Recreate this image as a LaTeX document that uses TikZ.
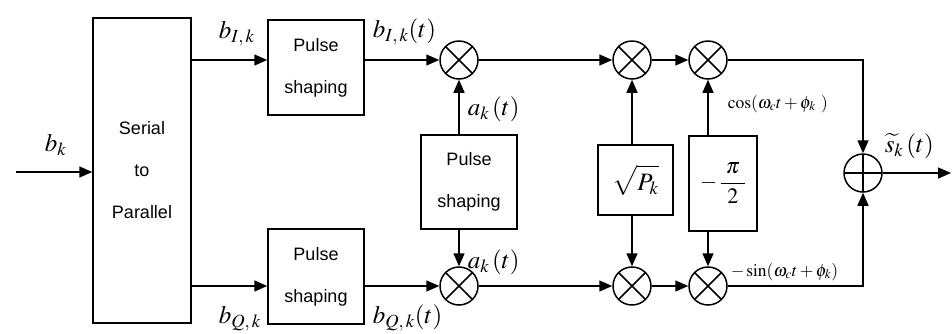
\documentclass[tikz,border=0pt]{standalone}
\usepackage{mathptmx}
\usepackage{fontspec}
\setsansfont{Liberation Sans}
\usetikzlibrary{arrows.meta}

\begin{document}
\begin{tikzpicture}[x=1pt,y=-1pt,line width=1.5pt,
  >={Triangle[length=13pt,width=11pt]},
  block/.style={draw,inner sep=0pt,align=center,
    font=\sffamily\fontsize{18}{42}\selectfont},
  mult/.style={draw,circle,minimum size=38pt,inner sep=0pt,
    path picture={\draw[line width=1.5pt]
      (path picture bounding box.north west) -- (path picture bounding box.south east)
      (path picture bounding box.north east) -- (path picture bounding box.south west);}},
  adder/.style={draw,circle,minimum size=38pt,inner sep=0pt,
    path picture={\draw[line width=1.5pt]
      (path picture bounding box.north) -- (path picture bounding box.south)
      (path picture bounding box.west) -- (path picture bounding box.east);}},
  lbl/.style={inner sep=0pt,anchor=base west,font=\fontsize{25}{28}\selectfont},
  smalllbl/.style={inner sep=0pt,anchor=base west,font=\fontsize{17.5}{20}\selectfont}]

\useasboundingbox (0,0) rectangle (952,333);

% blocks
\node[block,minimum width=98pt,minimum height=305pt] (sp) at (142,170.5) {Serial\\to\\Parallel};
\node[block,minimum width=96pt,minimum height=95pt] (psI) at (316,67.5) {Pulse\\shaping};
\node[block,minimum width=96pt,minimum height=95pt] (psQ) at (316,276.5) {Pulse\\shaping};
\node[block,minimum width=96pt,minimum height=94pt] (psA) at (469,182) {Pulse\\shaping};
\node[block,minimum width=75pt,minimum height=70pt] (amp) at (635.5,180)
  {\fontsize{25}{30}\selectfont$\sqrt{P_k\vphantom{P^{2}}}$};
\node[block,minimum width=68pt,minimum height=95pt] (shift) at (723,183.5)
  {\fontsize{22}{26}\selectfont$\displaystyle -\,\frac{\;\pi\;}{2}$};

% multipliers and adder
\node[mult] (mI1) at (459,60) {};
\node[mult] (mI2) at (632,60) {};
\node[mult] (mI3) at (708,60) {};
\node[mult] (mQ1) at (459,286) {};
\node[mult] (mQ2) at (632,286) {};
\node[mult] (mQ3) at (708,286) {};
\node[adder] (sum) at (863,173) {};

\coordinate (in) at (16,172);
\coordinate (out) at (951,173);

% signal flow
\draw[->] (in) -- (in -| sp.west);
\draw[->] (sp.east |- mI1) -- (psI.west |- mI1);
\draw[->] (sp.east |- mQ1) -- (psQ.west |- mQ1);
\draw[->] (psI.east |- mI1) -- (mI1.west);
\draw[->] (psQ.east |- mQ1) -- (mQ1.west);
\draw[->] (psA.north -| mI1) -- (mI1.south);
\draw[->] (psA.south -| mQ1) -- (mQ1.north);
\draw[->] (mI1.east) -- (mI2.west);
\draw[->] (mQ1.east) -- (mQ2.west);
\draw[->] (amp.north -| mI2) -- (mI2.south);
\draw[->] (amp.south -| mQ2) -- (mQ2.north);
\draw[->] (mI2.east) -- (mI3.west);
\draw[->] (mQ2.east) -- (mQ3.west);
\draw[->] (shift.north -| mI3) -- (mI3.south);
\draw[->] (shift.south -| mQ3) -- (mQ3.north);
\draw[->] (mI3.east) -| (sum.north);
\draw[->] (mQ3.east) -| (sum.south);
\draw[->] (sum.east) -- (out);

% labels
\node[lbl] (lbk) at (44,151) {$b_k$};
\node[lbl] (lbI) at (218,38) {$b_{I,\,k}$};
\node[lbl] (lbQ) at (218,323) {$b_{Q,\,k}$};
\node[lbl] (lbIt) at (372,37) {$b_{I,\,k}(t)$};
\node[lbl] (lbQt) at (372,323) {$b_{Q,\,k}(t)$};
\node[lbl] (la1) at (467,115) {$a_k\,(t)$};
\node[lbl] (la2) at (467,268) {$a_k\,(t)$};
\node[smalllbl] (lcos) at (727,108) {$\cos(\omega_c t + \phi_k\ )$};
\node[smalllbl] (lsin) at (730,276) {$-\sin(\omega_c t + \phi_k)$};
\node[lbl] (ls) at (884,152) {$\widetilde{s}_k\,(t)$};
\end{tikzpicture}
\end{document}
